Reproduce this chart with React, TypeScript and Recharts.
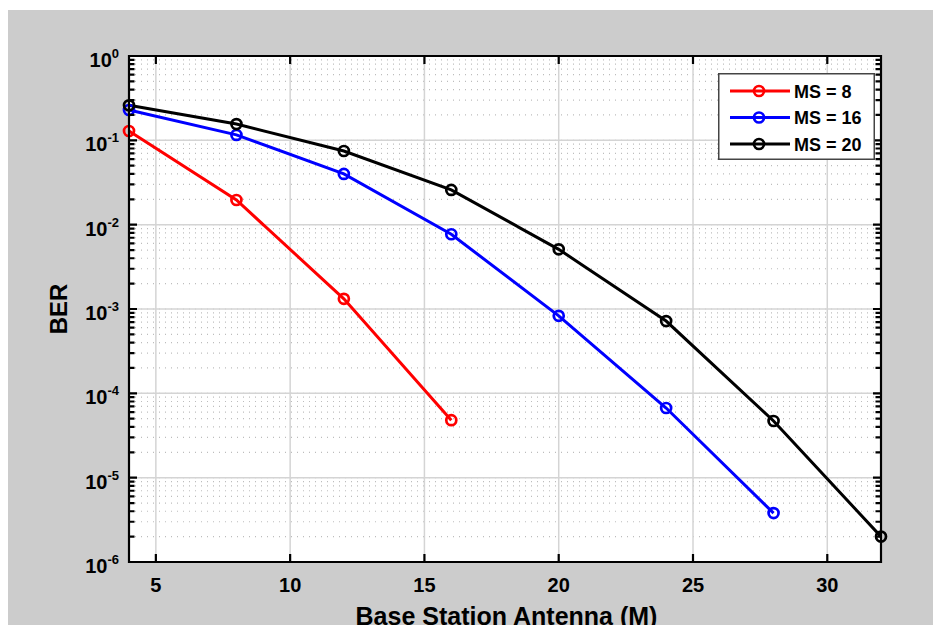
import React from 'react';
import { LineChart, Line, XAxis, YAxis, CartesianGrid, ReferenceLine } from 'recharts';

// number of base station antennas (x axis)
const antennas = [4, 8, 12, 16, 20, 24, 28, 32];
// BER
const berMs8 = [0.129, 0.0196, 0.00132, 0.000048];
const berMs16 = [0.229, 0.116, 0.04, 0.0077, 0.00083, 0.000067, 0.0000038];
const berMs20 = [0.26, 0.156, 0.0747, 0.0258, 0.0051, 0.00072, 0.000047, 0.000002];

const seriesKeys = ['ms8', 'ms16', 'ms20'];
const seriesNames = ['MS = 8', 'MS = 16', 'MS = 20'];
const seriesColors = ['#ff0000', '#0000ff', '#000000'];

const xDomain = [4, 32];
const yDomain = [1e-6, 1];
const xTicks = [5, 10, 15, 20, 25, 30];
const decadeExps = [-6, -5, -4, -3, -2, -1, 0];
const minorMult = [2, 3, 4, 5, 6, 7, 8, 9];

const FONT = '"Liberation Sans", Arial, Helvetica, sans-serif';

const majorY = decadeExps.map(e => Math.pow(10, e));
const minorY = decadeExps.slice(0, -1).flatMap(e => minorMult.map(m => m * Math.pow(10, e)));
const yTicks = [...majorY, ...minorY].sort((a, b) => a - b);

const chartData = antennas.map((m, i) => ({ M: m, ms8: berMs8[i], ms16: berMs16[i], ms20: berMs20[i] }));

// figure / plot box geometry
const W = 925;
const H = 615;
const margin = { top: 46, right: 52, left: 21, bottom: 23 };
const yAxisW = 100;
const xAxisH = 40;
const plotLeft = margin.left + yAxisW;
const plotTop = margin.top;
const plotW = W - plotLeft - margin.right;
const plotH = H - margin.top - margin.bottom - xAxisH;
const plotRight = plotLeft + plotW;
const plotBottom = plotTop + plotH;

// same mapping as the chart axes, used only for the box decoration (frame + inward ticks)
const boxX = (v: number) => plotLeft + ((v - xDomain[0]) / (xDomain[1] - xDomain[0])) * plotW;
const boxY = (v: number) => plotTop + (Math.log10(yDomain[1] / v) / Math.log10(yDomain[1] / yDomain[0])) * plotH;

const isDecade = (v: number) => Math.abs(Math.log10(v) - Math.round(Math.log10(v))) < 1e-6;

// one path for the box and all inward ticks
const boxPath = (() => {
    let d = `M${plotLeft},${plotTop} H${plotRight} V${plotBottom} H${plotLeft} Z`;
    yTicks.slice(1, -1).forEach(v => {
        const len = isDecade(v) ? 8 : 5.5;
        const y = boxY(v).toFixed(2);
        d += ` M${plotLeft},${y} h${len} M${plotRight},${y} h${-len}`;
    });
    xTicks.forEach(v => {
        const x = boxX(v).toFixed(2);
        d += ` M${x},${plotBottom} v-8 M${x},${plotTop} v8`;
    });
    return d;
})();

const YTick = ({ x, y, payload }: any) => {
    const v = payload.value;
    if (!isDecade(v)) return <g />;
    return (
        <text x={x - 10} y={y + 11} textAnchor="end" fontFamily={FONT} fontWeight="bold" fontSize={20} fill="#000">
            10
            <tspan dy={-9} fontSize={13}>{Math.round(Math.log10(v))}</tspan>
        </text>
    );
};

const XTick = ({ x, y, payload }: any) => (
    <text x={x} y={y + 30} textAnchor="middle" fontFamily={FONT} fontWeight="bold" fontSize={20} fill="#000">
        {payload.value}
    </text>
);

export default function App() {
    return (
        <div style={{ position: 'fixed', left: 8, top: 10, width: W, height: H, background: '#cccccc' }}>
            <div style={{ position: 'absolute', left: plotLeft, top: plotTop, width: plotW, height: plotH, background: '#ffffff' }} />
            <div style={{ position: 'absolute', left: 0, top: 0 }}>
                <LineChart width={W} height={H} data={chartData} margin={margin}>
                    <CartesianGrid vertical={false} stroke="#bdbdbd" strokeWidth={1.2} strokeDasharray="1 5" />
                    <CartesianGrid horizontal={false} stroke="#d4d4d4" strokeWidth={1.5} />
                    {majorY.slice(1, -1).map(v => (
                        <ReferenceLine key={'my' + v} y={v} stroke="#d4d4d4" strokeWidth={1.5} />
                    ))}
                    {seriesKeys.map((key, i) => (
                        <Line
                            key={key}
                            dataKey={key}
                            name={seriesNames[i]}
                            stroke={seriesColors[i]}
                            strokeWidth={3}
                            dot={{ r: 5, strokeWidth: 2.7, fill: 'none', stroke: seriesColors[i] }}
                            activeDot={false}
                            isAnimationActive={false}
                        />
                    ))}
                    <XAxis
                        dataKey="M"
                        type="number"
                        domain={xDomain}
                        ticks={xTicks}
                        interval={0}
                        tickSize={0}
                        tickMargin={0}
                        tickLine={false}
                        axisLine={false}
                        tick={XTick}
                        height={xAxisH}
                    />
                    <YAxis
                        type="number"
                        scale="log"
                        domain={yDomain}
                        ticks={yTicks}
                        interval={0}
                        tickSize={0}
                        tickMargin={0}
                        tickLine={false}
                        axisLine={false}
                        tick={YTick}
                        width={yAxisW}
                    />
                </LineChart>
            </div>
            {/* axes box with inward ticks, and axis titles */}
            <svg width={W} height={H} style={{ position: 'absolute', left: 0, top: 0, pointerEvents: 'none' }}>
                <path d={boxPath} stroke="#000000" strokeWidth={2.2} fill="none" />
                <text
                    x={50}
                    y={plotTop + plotH / 2}
                    transform={`rotate(-90 50 ${plotTop + plotH / 2})`}
                    textAnchor="middle"
                    dominantBaseline="central"
                    fontFamily={FONT}
                    fontWeight="bold"
                    fontSize={24}
                    fill="#000"
                >
                    BER
                </text>
                <text x={plotLeft + plotW / 2 + 1.5} y={615} textAnchor="middle" fontFamily={FONT} fontWeight="bold" fontSize={25} fill="#000">
                    Base Station Antenna (M)
                </text>
            </svg>
            {/* legend */}
            <svg width={157} height={87} style={{ position: 'absolute', left: 710, top: 63 }}>
                <rect x={0.75} y={0.75} width={155.5} height={85.5} fill="#fff" stroke="#444" strokeWidth={1.5} />
                {seriesNames.map((name, i) => {
                    const cy = 18 + i * 26.5;
                    return (
                        <g key={name}>
                            <line x1={12} x2={72} y1={cy} y2={cy} stroke={seriesColors[i]} strokeWidth={3} />
                            <circle cx={41} cy={cy} r={5} fill="none" stroke={seriesColors[i]} strokeWidth={2.7} />
                            <text x={76} y={cy + 6.5} fontFamily={FONT} fontWeight="bold" fontSize={18} fill="#000">
                                {name}
                            </text>
                        </g>
                    );
                })}
            </svg>
        </div>
    );
}
